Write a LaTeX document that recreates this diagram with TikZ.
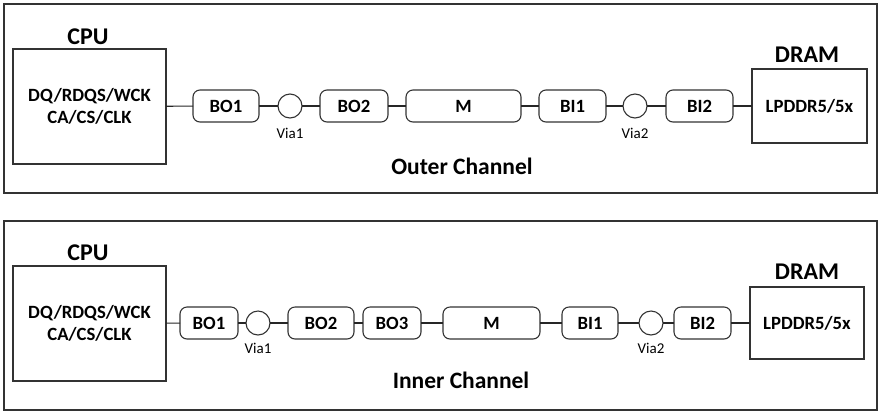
\documentclass[tikz,border=0pt]{standalone}
\usepackage{fontspec}
\setmainfont{Carlito}
\begin{document}
\begin{tikzpicture}[x=1pt,y=-1pt,
  every node/.style={inner sep=0pt,outer sep=0pt},
  frame/.style={draw=black!80,line width=1.1pt},
  chip/.style={draw=black!80,line width=1.1pt,rectangle,align=center,font=\bfseries\fontsize{18.7}{22}\selectfont},
  rbox/.style={draw=black!80,line width=1.1pt,rectangle,rounded corners=7pt,minimum height=32pt,font=\bfseries\fontsize{18.7}{22}\selectfont},
  via/.style={draw=black!80,line width=1.1pt,circle,minimum size=24pt},
  vialbl/.style={font=\fontsize{15}{17}\selectfont},
  title/.style={font=\bfseries\fontsize{24}{28}\selectfont},
  chan/.style={font=\bfseries\fontsize{23.5}{28}\selectfont},
  wire/.style={draw=black!85,line width=1.1pt}]
\useasboundingbox (0,0) rectangle (882,416);
% ---------- top panel ----------
\node[frame,minimum width=873pt,minimum height=189pt] (f1) at (440.5,98.5) {};
\node[chip,minimum width=153pt,minimum height=115pt] (cpuA) at (89.5,106.5) {DQ/RDQS/WCK\\CA/CS/CLK};
\node[title] (cpuAl) at (88,37) {CPU};
\node[rbox,minimum width=66pt] (boA1) at (226,106) {BO1};
\node[via] (viaA1) at (290,106) {};
\node[vialbl] (viaA1l) at (290,133) {Via1};
\node[rbox,minimum width=68pt] (boA2) at (354,106) {BO2};
\node[rbox,minimum width=115pt] (mA) at (463.5,106) {M};
\node[rbox,minimum width=67pt] (biA1) at (572.5,106) {BI1};
\node[via] (viaA2) at (635,106) {};
\node[vialbl] (viaA2l) at (635,133) {Via2};
\node[rbox,minimum width=67pt] (biA2) at (699.5,106) {BI2};
\node[chip,minimum width=115pt,minimum height=74pt] (dramA) at (809.5,106) {LPDDR5/5x};
\node[title] (dramAl) at (807,55) {DRAM};
\node[chan] (chA) at (462,166) {Outer Channel};
\draw[wire] (cpuA) -- (boA1);
\draw[wire] (boA1) -- (viaA1);
\draw[wire] (viaA1) -- (boA2);
\draw[wire] (boA2) -- (mA);
\draw[wire] (mA) -- (biA1);
\draw[wire] (biA1) -- (viaA2);
\draw[wire] (viaA2) -- (biA2);
\draw[wire] (biA2) -- (dramA);
% ---------- bottom panel ----------
\node[frame,minimum width=873pt,minimum height=189pt] (f2) at (440.5,315.5) {};
\node[chip,minimum width=153pt,minimum height=115pt] (cpuB) at (89.5,323.5) {DQ/RDQS/WCK\\CA/CS/CLK};
\node[title] (cpuBl) at (88,253) {CPU};
\node[rbox,minimum width=58pt] (boB1) at (209,323) {BO1};
\node[via] (viaB1) at (258,323) {};
\node[vialbl] (viaB1l) at (258,348) {Via1};
\node[rbox,minimum width=66pt] (boB2) at (321,323) {BO2};
\node[rbox,minimum width=58pt] (boB3) at (392,323) {BO3};
\node[rbox,minimum width=97pt] (mB) at (491.5,323) {M};
\node[rbox,minimum width=56pt] (biB1) at (590,323) {BI1};
\node[via] (viaB2) at (651,323) {};
\node[vialbl] (viaB2l) at (651,348) {Via2};
\node[rbox,minimum width=57pt] (biB2) at (702.5,323) {BI2};
\node[chip,minimum width=114pt,minimum height=72pt] (dramB) at (807,323) {LPDDR5/5x};
\node[title] (dramBl) at (807,272) {DRAM};
\node[chan] (chB) at (461,380) {Inner Channel};
\draw[wire] (cpuB) -- (boB1);
\draw[wire] (boB1) -- (viaB1);
\draw[wire] (viaB1) -- (boB2);
\draw[wire] (boB2) -- (boB3);
\draw[wire] (boB3) -- (mB);
\draw[wire] (mB) -- (biB1);
\draw[wire] (biB1) -- (viaB2);
\draw[wire] (viaB2) -- (biB2);
\draw[wire] (biB2) -- (dramB);
\end{tikzpicture}
\end{document}
